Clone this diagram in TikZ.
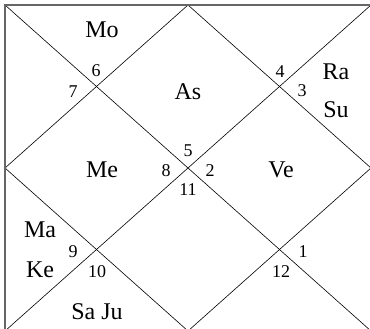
\documentclass[tikz,border=0pt]{standalone}
\usepackage{fontspec}
\setmainfont{Liberation Serif}
\tikzset{
  planet/.style={font=\fontsize{24}{27}\selectfont},
  house/.style={font=\fontsize{18}{20}\selectfont}
}
\begin{document}
\begin{tikzpicture}[x=1pt,y=-1pt,line join=round,line cap=round]
				\useasboundingbox (0,0) rectangle (370,329);
				\clip (0,0) rectangle (370,329);
				\fill[white] (0,0) rectangle (370,329);
				
				\coordinate (tl) at (5,5);
				\coordinate (tr) at (371,5);
				\coordinate (bl) at (5,331);
				\coordinate (br) at (371,331);
				\coordinate (tm) at (188,5);
				\coordinate (lm) at (5,168);
				\coordinate (bm) at (188,331);
				\coordinate (rm) at (371,168);
				
				\draw[line width=0.6pt] (tl) -- (br);
				\draw[line width=0.6pt] (bl) -- (tr);
				\draw[line width=0.6pt] (tm) -- (lm) -- (bm) -- (rm) -- cycle;
				
				\draw[black!60,line width=2.6pt,line cap=butt] (bl) -- (5,3.7) (3.7,5) -- (tr);
				
				\path (102,30) node[planet] (mo) {Mo};
				\path (188,92) node[planet] (as) {As};
				\path (336,72) node[planet] (ra) {Ra};
				\path (336,110) node[planet] (su) {Su};
				\path (102,170) node[planet] (me) {Me};
				\path (281,170) node[planet] (ve) {Ve};
				\path (40,230) node[planet] (ma) {Ma};
				\path (40,270) node[planet] (ke) {Ke};
				\path (97,312) node[planet] (saju) {Sa Ju};
				
				\path (96,71) node[house] (h6) {6};
				\path (73,92) node[house] (h7) {7};
				\path (280,72) node[house] (h4) {4};
				\path (302,91) node[house] (h3) {3};
				\path (188,151) node[house] (h5) {5};
				\path (166,171) node[house] (h8) {8};
				\path (210,171) node[house] (h2) {2};
				\path (188,190) node[house] (h11) {11};
				\path (73,252) node[house] (h9) {9};
				\path (97,272) node[house] (h10) {10};
				\path (303,252) node[house] (h1) {1};
				\path (281,272) node[house] (h12) {12};
			\end{tikzpicture}
\end{document}
